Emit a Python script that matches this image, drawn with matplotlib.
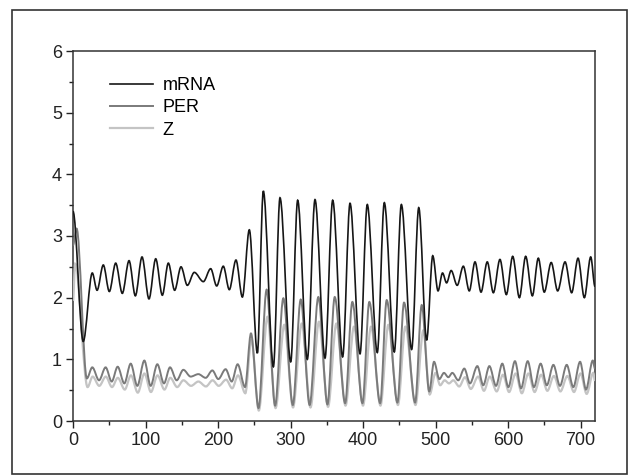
import matplotlib
matplotlib.use("Agg")
import matplotlib.pyplot as plt
from matplotlib.path import Path
from matplotlib.patches import PathPatch, Rectangle
from matplotlib.lines import Line2D

plt.rcParams['font.family'] = ['Liberation Sans', 'DejaVu Sans']

# ---- data: extrema (time, value) ----
mrna_t = [0, 14.1, 26.6, 33.2, 41.8, 50.1, 58.9, 68.0, 77.3, 86.0, 95.2, 104.8, 114.1, 123.2,
          131.5, 140.2, 149.0, 157.7, 167.3, 179.8, 189.9, 198.2, 207.3, 215.6, 224.8, 233.6,
          243.2, 254.3, 262.5, 276.4, 285.5, 300.3, 309.9, 323.2, 333.8, 347.6, 358.2, 371.9,
          382.1, 395.9, 405.9, 419.7, 429.4, 443.2, 452.9, 467.1, 476.9, 487.8, 496.2, 503.5,
          509.7, 515.3, 521.6, 529.9, 538.4, 546.6, 554.5, 562.8, 571.4, 579.8, 588.9, 597.7,
          606.5, 615.7, 624.4, 633.6, 641.8, 650.0, 659.6, 668.5, 678.7, 687.8, 696.6, 705.3,
          714.1, 720]
mrna_v = [3.40, 1.29, 2.40, 2.12, 2.53, 2.10, 2.56, 2.07, 2.60, 2.03, 2.66, 1.98, 2.63, 2.04,
          2.56, 2.12, 2.50, 2.20, 2.41, 2.26, 2.47, 2.19, 2.51, 2.13, 2.61, 2.01,
          3.10, 1.10, 3.73, 0.88, 3.62, 0.96, 3.58, 1.00, 3.59, 1.02, 3.58, 1.04,
          3.53, 1.09, 3.51, 1.11, 3.54, 1.12, 3.51, 1.16, 3.46, 1.31, 2.68, 2.11,
          2.40, 2.24, 2.44, 2.20, 2.51, 2.11, 2.58, 2.09, 2.58, 2.08, 2.62, 2.05,
          2.67, 2.00, 2.67, 2.03, 2.64, 2.09, 2.57, 2.11, 2.58, 2.08, 2.64, 2.00,
          2.66, 2.18]

per_t = [0, 5, 19.1, 26.6, 35.9, 45.0, 53.4, 61.6, 70.8, 79.6, 88.7, 98.4, 107.1, 116.3, 125.5,
         133.8, 143.0, 152.2, 162.3, 172.9, 183.0, 192.2, 200.4, 210.5, 218.9, 227.1, 237.3,
         245.5, 255.9, 267.1, 278.8, 290.1, 303.2, 314.1, 326.4, 338.4, 351.0, 361.0, 375.4,
         385.3, 399.3, 408.7, 423.7, 432.7, 447.5, 456.6, 471.9, 481.0, 491.4, 498.0, 505.3,
         511.7, 517.7, 523.2, 531.4, 539.7, 547.6, 557.7, 565.9, 574.3, 583.5, 592.1, 600.5,
         609.6, 618.0, 627.2, 635.8, 645.0, 653.5, 662.6, 671.7, 681.0, 690.1, 699.4, 707.6,
         716.9, 720]
per_v = [2.85, 3.12, 0.69, 0.87, 0.66, 0.87, 0.64, 0.88, 0.61, 0.93, 0.57, 0.98, 0.57, 0.92, 0.61,
         0.87, 0.66, 0.83, 0.72, 0.76, 0.70, 0.82, 0.68, 0.84, 0.64, 0.92, 0.55,
         1.42, 0.21, 2.13, 0.25, 1.99, 0.26, 1.97, 0.26, 2.01, 0.27, 2.01, 0.29,
         1.93, 0.29, 1.93, 0.29, 1.96, 0.30, 1.92, 0.30, 1.88, 0.48, 0.96, 0.68,
         0.78, 0.71, 0.78, 0.66, 0.85, 0.61, 0.89, 0.58, 0.89, 0.57, 0.93, 0.55,
         0.97, 0.53, 0.97, 0.55, 0.93, 0.58, 0.91, 0.57, 0.91, 0.55, 0.96, 0.51,
         0.98, 0.85]

z_t = [0, 3, 20.1, 27.1, 36.2, 45.2, 53.8, 61.8, 71.4, 79.9, 89.4, 98.5, 107.5, 116.6, 126.1,
       134.2, 143.7, 152.3, 162.8, 172.9, 183.4, 192.5, 201.0, 211.1, 219.6, 227.6, 237.7,
       246.0, 256.3, 268.3, 279.4, 291.5, 303.5, 315.5, 327.6, 339.3, 351.8, 363.3, 375.9,
       387.6, 400.0, 411.1, 424.1, 435.0, 448.2, 458.4, 472.4, 483.2, 492.0, 500.0, 506.5,
       512.6, 518.6, 524.6, 532.7, 540.7, 548.7, 558.8, 566.8, 574.9, 584.4, 593.0, 601.5,
       610.5, 619.1, 628.1, 636.7, 645.7, 654.3, 663.3, 672.3, 681.9, 691.0, 700.0, 708.5,
       717.6, 720]
z_v = [1.95, 2.55, 0.55, 0.72, 0.57, 0.72, 0.55, 0.70, 0.51, 0.74, 0.46, 0.77, 0.47, 0.74, 0.51,
       0.70, 0.55, 0.66, 0.57, 0.64, 0.56, 0.66, 0.57, 0.67, 0.53, 0.74, 0.45,
       1.32, 0.17, 1.69, 0.21, 1.56, 0.22, 1.58, 0.22, 1.61, 0.23, 1.58, 0.25,
       1.53, 0.25, 1.53, 0.25, 1.56, 0.26, 1.53, 0.26, 1.47, 0.43, 0.78, 0.58,
       0.66, 0.61, 0.66, 0.56, 0.71, 0.52, 0.72, 0.49, 0.72, 0.48, 0.75, 0.47,
       0.77, 0.45, 0.77, 0.47, 0.75, 0.49, 0.73, 0.48, 0.73, 0.47, 0.77, 0.44,
       0.78, 0.65]

labels = ['mRNA', 'PER', 'Z']
colors = ['#161616', '#7a7a7a', '#c4c4c4']
widths = [1.2, 1.4, 1.6]
xticks = [0, 100, 200, 300, 400, 500, 600, 700]
yticks = [0, 1, 2, 3, 4, 5, 6]


def smooth_path(ts, vs):
    """Bezier path through the extrema with horizontal tangents."""
    verts = [(ts[0], vs[0])]
    codes = [Path.MOVETO]
    for i in range(1, len(ts)):
        dt = ts[i] - ts[i - 1]
        verts += [(ts[i - 1] + dt / 3, vs[i - 1]), (ts[i] - dt / 3, vs[i]), (ts[i], vs[i])]
        codes += [Path.CURVE4] * 3
    return Path(verts, codes)


fig = plt.figure(figsize=(6.37, 4.75), dpi=100)
ax = fig.add_axes([73 / 637, 1 - 421 / 475, (595 - 73) / 637, (421 - 51) / 475])

series = [(mrna_t, mrna_v), (per_t, per_v), (z_t, z_v)]
for k in [2, 1, 0]:
    ts, vs = series[k]
    ax.add_patch(PathPatch(smooth_path(ts, vs), facecolor='none', edgecolor=colors[k],
                           lw=widths[k], zorder=3 - k * 0.1))

ax.set_xlim(0, 720)
ax.set_ylim(0, 6)
ax.set_xticks(xticks)
ax.set_yticks(yticks)
ax.set_xticks([50, 150, 250, 350, 450, 550, 650], minor=True)
ax.set_yticks([0.5, 1.5, 2.5, 3.5, 4.5, 5.5], minor=True)
ax.tick_params(which='major', direction='out', length=5, width=1, labelsize=13, pad=3,
               colors='#222222')
ax.tick_params(which='minor', direction='out', length=3, width=1, colors='#222222')
for s in ax.spines.values():
    s.set_linewidth(1.1)
    s.set_color('#333333')

handles = [Line2D([], [], color=colors[k], lw=widths[k]) for k in range(3)]
ax.legend(handles, labels, loc='upper left', bbox_to_anchor=(0.071, 0.93), frameon=False,
          fontsize=13, handlelength=2.4, handletextpad=0.5, labelspacing=0.3, borderpad=0,
          borderaxespad=0)

fig.patches.append(Rectangle((12 / 637, 1 / 475), (627 - 12) / 637, (465 - 1) / 475,
                             transform=fig.transFigure, fill=False, edgecolor='#333333',
                             lw=1.2))

fig.savefig('out.png', dpi=100)
